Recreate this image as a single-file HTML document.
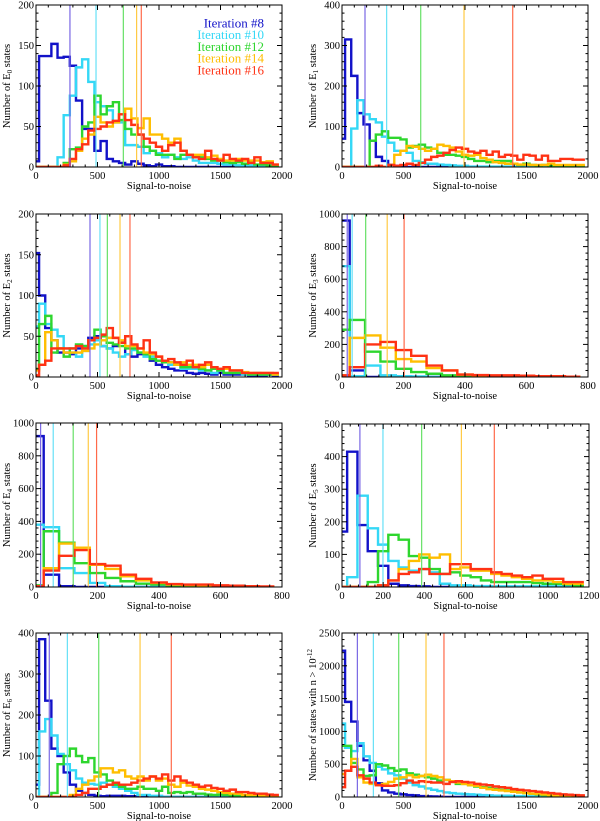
<!DOCTYPE html>
<html><head><meta charset="utf-8"><style>
body{margin:0;background:#fff;}
svg{display:block;font-family:"Liberation Serif",serif;}
</style></head><body>
<svg id="fig" width="600" height="821" viewBox="0 0 600 821" xmlns="http://www.w3.org/2000/svg"></svg>
<script>
const seriesNames = ["Iteration #8","Iteration #10","Iteration #12","Iteration #14","Iteration #16"];
const binWidth = 50;
// Panel 1 (E0)
const p1Blue=[7,137,137,152,135,136,125,82,47,47,20,32,10,7,5,3,7,4,2,1,3,1,1];
const p1Cyan=[0,0,0,0,12,64,88,123,133,105,80,75,70,55,55,27,27,25,17,20,17,12,15,12,10,12,8,5,5,5,4,3,3,2,2,2,1];
const p1Green=[0,0,0,0,0,5,22,24,50,55,88,65,75,80,58,47,40,40,25,20,15,15,15,10,15,15,13,12,10,8,8,6,5,6,4,6,3,3,2,2];
const p1Orange=[0,0,0,0,0,3,7,20,35,40,62,55,50,55,65,72,60,48,60,40,40,35,30,35,20,15,15,15,12,14,10,8,8,10,8,8,8,6,7,3];
const p1Red=[0,0,0,0,0,2,10,22,28,45,47,50,55,57,65,58,52,40,35,30,25,20,27,30,20,15,12,10,20,10,8,15,10,8,10,5,12,5,5,3];
const p1Lines=[276,488,710,818,856];
// Panel 2 (E1)
const p2Blue=[70,315,225,133,105,65,25,15,5,3,2];
const p2Cyan=[0,0,95,165,130,118,110,75,60,40,40,35,15,12,8,8,6,5,4,3,3,1,1,1,1,1,1,1,1,1];
const p2Green=[0,0,0,0,0,65,80,88,72,72,68,48,52,55,48,45,35,30,30,28,25,20,15,15,12,15,15,15,8,5,8,5,3,5,3,3,2,2,2,2];
const p2Orange=[0,0,0,0,0,0,0,0,5,30,40,52,50,45,40,45,55,52,48,38,30,28,30,22,18,12,10,8,8,6,6,5,5,5,8,5,5,5,5,5];
const p2Red=[0,0,0,0,0,0,3,0,5,3,5,8,5,10,18,25,28,35,42,48,45,38,35,40,30,38,25,30,28,18,30,28,18,28,15,15,20,20,18,18];
const p2Lines=[187,363,640,992,1388];
// Panel 3 (E2)
const p3Blue=[152,100,60,45,30,30,28,35,38,48,50,38,35,38,42,28,25,28,28,20,15,12,10,8,8,5,4,5,4,3,5,3,3,3,3,2,2,2,3,2];
const p3Cyan=[62,90,65,58,50,35,30,25,32,40,45,38,35,30,25,28,33,30,25,25,20,18,15,15,10,10,10,8,8,5,8,5,5,5,3,3,5,3,3,3];
const p3Green=[10,65,75,30,35,25,35,40,38,45,58,50,42,40,38,35,35,30,28,22,20,18,18,15,12,12,12,10,8,10,8,5,5,5,5,3,3,3,3,3];
const p3Orange=[8,15,55,45,35,30,30,30,32,35,40,45,48,48,45,38,38,35,30,28,25,20,18,15,18,15,15,12,15,12,10,10,8,8,6,5,5,5,5,3];
const p3Red=[2,15,20,35,35,35,35,38,35,45,48,52,60,48,42,50,40,35,45,30,25,20,22,18,15,20,12,15,18,12,10,12,8,8,5,5,5,5,5,5];
const p3Lines=[439,520,580,683,764];
// Panel 4 (E3)
const p4Blue=[960,40];
const p4Cyan=[680,5,70,10,5,3];
const p4Green=[290,350,155,95,50,30,20,10,5,5,3,2,2];
const p4Orange=[10,240,255,180,110,95,55,40,15,10,8,5,5,3,2,2];
const p4Red=[10,60,200,215,165,130,70,40,15,12,10,10,8,5,5,2];
const p4Lines=[17,33,77,147,202];
// Panel 5 (E4)
const p5Blue=[920,75,5];
const p5Cyan=[380,365,115,85,25,5,2];
const p5Green=[10,340,270,145,85,55,35,20,15,8,5,3,2];
const p5Orange=[5,115,265,240,135,110,65,40,25,15,12,10,5,4,3,2];
const p5Red=[5,100,190,225,140,130,75,50,28,18,15,15,10,8,5,3];
const p5Lines=[15,56,121,170,197];
// Panel 6 (E5)
const p6Blue=[170,415,190,110,65,10,5,3,2];
const p6Cyan=[0,30,280,180,130,80,60,50,55,45,10,5,5,3,3,2,2,2,2,2,2,2,2,2];
const p6Green=[0,0,0,15,110,160,145,95,90,55,40,45,35,30,20,15,15,15,15,12,10,10,8,5];
const p6Orange=[0,0,0,0,5,20,55,80,100,90,100,55,60,50,50,40,35,30,25,20,20,15,10,10];
const p6Red=[0,0,0,0,5,20,40,45,55,40,40,70,70,55,55,45,40,35,30,35,25,25,15,15];
const p6Lines=[87,199,387,580,740];
// Panel 7 (E6)
const p7Blue=[30,385,235,118,100,60,30,15,10,5,3,2,3,3,3,2,2];
const p7Cyan=[0,160,190,150,105,80,65,45,35,32,30,35,30,25,20,15,10,5,5,3,3];
const p7Green=[0,0,0,10,80,100,118,100,85,95,60,55,40,30,25,20,20,25,20,20,15,25,10,12,10,12,8,8,6,5,6,5,4,3,3,3,2,2,2];
const p7Orange=[0,0,0,0,0,0,5,20,30,40,50,70,70,60,65,50,45,50,40,50,40,45,30,25,35,28,25,20,18,15,12,10,8,8,5,5,5,4,3,2];
const p7Red=[0,0,0,0,0,0,0,5,10,20,20,25,30,35,30,30,35,40,45,50,45,55,40,50,40,35,30,25,28,22,20,15,18,12,12,10,8,8,6,5];
const p7Lines=[108,255,510,846,1100];
// Panel 8 (n > 1e-12)
const p8Blue=[2230,1450,1150,780,560,400,210,100,70,50,40,30,25,15,10,8,5];
const p8Cyan=[1120,750,700,820,620,520,460,420,360,330,280,220,180,160,130,110,90,70,60,50,45,40,35,30,25,20,20,20,15,15,10,10,10,5,5,5,5,5,5,5];
const p8Green=[780,780,520,420,320,330,500,480,440,400,420,360,340,320,300,280,250,260,230,200,200,180,160,150,140,120,110,100,90,70,60,50,40,30,25,20,15,10,10,5];
const p8Orange=[350,400,580,300,220,200,180,200,230,280,300,330,300,320,340,320,300,260,240,220,200,180,170,140,120,110,100,90,80,70,60,50,45,40,30,25,20,15,10,8];
const p8Red=[150,400,460,330,280,220,180,170,170,180,210,250,220,240,230,220,220,200,230,240,230,220,200,190,180,160,150,140,120,110,100,90,80,70,60,50,40,35,30,25];
const p8Lines=[125,255,461,683,829];

const xTicks2000=[0,500,1000,1500,2000];
const xTicks800=[0,200,400,600,800];
const xTicks1200=[0,200,400,600,800,1000,1200];

const colors=["#1212c8","#34d8f6","#2ed62e","#ffbe00","#ff3214"];
const lineColors=["#7a68e4","#66e0f6","#66e066","#ffca44","#ff6a4a"];

const panels=[
 {x:36,y:5,w:246,h:162,xmax:2000,ymax:200,yt:[0,50,100,150,200],xt:xTicks2000,sub:"0",s:[p1Blue,p1Cyan,p1Green,p1Orange,p1Red],v:p1Lines,legend:true},
 {x:342,y:5,w:246,h:162,xmax:2000,ymax:400,yt:[0,100,200,300,400],xt:xTicks2000,sub:"1",s:[p2Blue,p2Cyan,p2Green,p2Orange,p2Red],v:p2Lines},
 {x:36,y:214,w:246,h:163,xmax:2000,ymax:200,yt:[0,50,100,150,200],xt:xTicks2000,sub:"2",s:[p3Blue,p3Cyan,p3Green,p3Orange,p3Red],v:p3Lines},
 {x:342,y:214,w:246,h:163,xmax:800,ymax:1000,yt:[0,200,400,600,800,1000],xt:xTicks800,sub:"3",s:[p4Blue,p4Cyan,p4Green,p4Orange,p4Red],v:p4Lines},
 {x:36,y:423,w:246,h:164,xmax:800,ymax:1000,yt:[0,200,400,600,800,1000],xt:xTicks800,sub:"4",s:[p5Blue,p5Cyan,p5Green,p5Orange,p5Red],v:p5Lines},
 {x:342,y:424,w:247,h:163,xmax:1200,ymax:500,yt:[0,100,200,300,400,500],xt:xTicks1200,sub:"5",s:[p6Blue,p6Cyan,p6Green,p6Orange,p6Red],v:p6Lines},
 {x:36,y:633,w:246,h:164,xmax:2000,ymax:400,yt:[0,100,200,300,400],xt:xTicks2000,sub:"6",s:[p7Blue,p7Cyan,p7Green,p7Orange,p7Red],v:p7Lines},
 {x:342,y:633,w:246,h:164,xmax:2000,ymax:2500,yt:[0,500,1000,1500,2000,2500],xt:xTicks2000,sub:null,s:[p8Blue,p8Cyan,p8Green,p8Orange,p8Red],v:p8Lines}
];
const NS="http://www.w3.org/2000/svg";
const svg=document.getElementById("fig");
function mk(tag,attrs,parent){const e=document.createElementNS(NS,tag);for(const k in attrs)e.setAttribute(k,attrs[k]);(parent||svg).appendChild(e);return e;}

panels.forEach((p,pi)=>{
  const g=mk("g",{});
  
  
  const sx=v=>p.x+v/p.xmax*p.w;
  const sy=v=>p.y+p.h-Math.min(v,p.ymax)/p.ymax*p.h;
  const clip=mk("clipPath",{id:"c"+pi},g);
  mk("rect",{x:p.x,y:p.y,width:p.w,height:p.h},clip);
  const nb=Math.round(p.xmax/binWidth);
  p.s.forEach((arr,si)=>{
    let d="";
    for(let i=0;i<nb;i++){
      const val=i<arr.length?arr[i]:0;
      const c=i*binWidth;
      const l=Math.max(0,c-binWidth/2), r=Math.min(p.xmax,c+binWidth/2);
      d+=(i===0?"M"+sx(l)+","+sy(val):"V"+sy(val))+"H"+sx(r);
    }
    const path=mk("path",{d:d,fill:"none",stroke:colors[si],"stroke-width":2.4,"clip-path":"url(#c"+pi+")"},g);
    
    
  });
  p.v.forEach((xv,si)=>{
    const ln=mk("line",{x1:sx(xv),x2:sx(xv),y1:p.y,y2:p.y+p.h,stroke:lineColors[si],"stroke-width":1.2},g);
    
    
  });
  const box=mk("rect",{x:p.x,y:p.y,width:p.w,height:p.h,fill:"none",stroke:"#000","stroke-width":1},g);
  
  
  const xstep=p.xt[1]-p.xt[0];
  for(let k=0;k<p.xt.length;k++){
    const X=sx(p.xt[k]);
    mk("line",{x1:X,x2:X,y1:p.y+p.h,y2:p.y+p.h-5,stroke:"#000","stroke-width":1},g);
    mk("line",{x1:X,x2:X,y1:p.y,y2:p.y+5,stroke:"#000","stroke-width":1},g);
    if(k<p.xt.length-1)for(let m=1;m<5;m++){const Xm=sx(p.xt[k]+xstep*m/5);
      mk("line",{x1:Xm,x2:Xm,y1:p.y+p.h,y2:p.y+p.h-2.5,stroke:"#000","stroke-width":1},g);
      mk("line",{x1:Xm,x2:Xm,y1:p.y,y2:p.y+2.5,stroke:"#000","stroke-width":1},g);}
    const t=mk("text",{x:X,y:p.y+p.h+12,"text-anchor":"middle","font-size":"10.5"},g);
    t.textContent=p.xt[k];
    
    
  }
  const ystep=p.yt[1]-p.yt[0];
  for(let k=0;k<p.yt.length;k++){
    const Y=sy(p.yt[k]);
    mk("line",{x1:p.x,x2:p.x+5,y1:Y,y2:Y,stroke:"#000","stroke-width":1},g);
    mk("line",{x1:p.x+p.w,x2:p.x+p.w-5,y1:Y,y2:Y,stroke:"#000","stroke-width":1},g);
    if(k<p.yt.length-1)for(let m=1;m<5;m++){const Ym=sy(p.yt[k]+ystep*m/5);
      mk("line",{x1:p.x,x2:p.x+2.5,y1:Ym,y2:Ym,stroke:"#000","stroke-width":1},g);
      mk("line",{x1:p.x+p.w,x2:p.x+p.w-2.5,y1:Ym,y2:Ym,stroke:"#000","stroke-width":1},g);}
    const t=mk("text",{x:p.x-2,y:Y+3.5,"text-anchor":"end","font-size":"10.5"},g);
    t.textContent=p.yt[k];
    
    
  }
  const xt=mk("text",{x:p.x+p.w/2,y:p.y+p.h+22,"text-anchor":"middle","font-size":"10.5"},g);
  xt.textContent="Signal-to-noise";
  
  
  const cy=p.y+p.h/2, cx=p.x-26;
  const yt=mk("text",{x:cx,y:cy,"text-anchor":"middle","font-size":"10.5",transform:"rotate(-90 "+cx+" "+cy+")"},g);
  
  
  if(p.sub!==null){
    yt.appendChild(document.createTextNode("Number of E"));
    const ts=mk("tspan",{"font-size":"7",dy:"2"},yt);ts.textContent=p.sub;
    const ts2=mk("tspan",{dy:"-2"},yt);ts2.textContent=" states";
  } else {
    yt.appendChild(document.createTextNode("Number of states with n > 10"));
    const ts=mk("tspan",{"font-size":"7",dy:"-4"},yt);ts.textContent="-12";
  }
  if(p.legend){
    seriesNames.forEach((n,si)=>{
      const t=mk("text",{x:264,y:27.5+si*11.7,"text-anchor":"end","font-size":"13",fill:colors[si]},g);
      t.textContent=n;
      
      
    });
  }
});
</script>
</body></html>
